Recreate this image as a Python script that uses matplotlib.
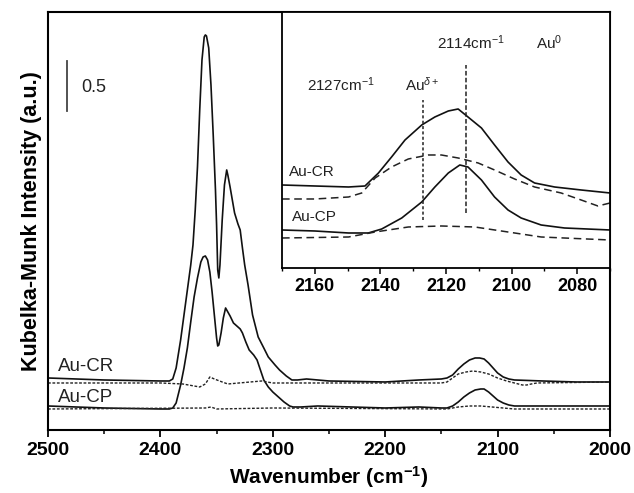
import matplotlib.pyplot as plt
from matplotlib.ticker import MultipleLocator

plt.rcParams['font.family'] = ['Liberation Sans', 'DejaVu Sans']
plt.rcParams['mathtext.fontset'] = 'custom'
plt.rcParams['mathtext.rm'] = 'Liberation Sans'
plt.rcParams['mathtext.it'] = 'Liberation Sans:italic'
plt.rcParams['mathtext.bf'] = 'Liberation Sans:bold'

# main spectra (wavenumber, Kubelka-Munk)
cr_x = [2500, 2450, 2400, 2392, 2389, 2386, 2382, 2379, 2376, 2373, 2371, 2369, 2367,
        2365, 2363, 2361, 2360, 2359, 2357, 2355, 2353, 2351, 2350, 2349, 2348, 2347,
        2345, 2343, 2341, 2340, 2338, 2336, 2334, 2331, 2329, 2327, 2325, 2322, 2318,
        2313, 2308, 2304, 2298, 2294, 2288, 2283, 2278, 2270, 2250, 2200, 2170, 2150,
        2145, 2140, 2135, 2130, 2125, 2120, 2116, 2112, 2108, 2104, 2100, 2095, 2090,
        2085, 2060, 2030, 2000]
cr_y = [0.52, 0.50, 0.49, 0.49, 0.51, 0.62, 0.90, 1.15, 1.40, 1.65, 1.85, 2.20, 2.63,
        3.20, 3.70, 3.93, 3.95, 3.94, 3.82, 3.45, 2.95, 2.40, 2.05, 1.60, 1.52, 1.65,
        2.10, 2.45, 2.60, 2.55, 2.43, 2.30, 2.17, 2.06, 2.00, 1.82, 1.65, 1.45, 1.15,
        0.93, 0.82, 0.73, 0.65, 0.60, 0.54, 0.50, 0.50, 0.51, 0.49, 0.48, 0.50, 0.51,
        0.52, 0.55, 0.61, 0.66, 0.70, 0.72, 0.72, 0.71, 0.67, 0.62, 0.57, 0.53, 0.51,
        0.50, 0.49, 0.48, 0.48]

cp_x = [2500, 2450, 2400, 2392, 2389, 2386, 2382, 2379, 2376, 2373, 2370, 2367, 2364,
        2362, 2360, 2358, 2356, 2354, 2352, 2350, 2349, 2348, 2346, 2344, 2342, 2340,
        2338, 2335, 2332, 2329, 2327, 2324, 2321, 2317, 2314, 2311, 2308, 2304, 2300,
        2295, 2290, 2285, 2282, 2275, 2260, 2200, 2170, 2150, 2145, 2140, 2135, 2130,
        2125, 2120, 2115, 2112, 2108, 2104, 2100, 2095, 2090, 2085, 2040, 2000]
cp_y = [0.24, 0.22, 0.21, 0.21, 0.22, 0.27, 0.45, 0.62, 0.82, 1.08, 1.33, 1.52, 1.68,
        1.73, 1.74, 1.70, 1.58, 1.38, 1.15, 0.92, 0.84, 0.85, 0.97, 1.12, 1.22, 1.18,
        1.14, 1.07, 1.04, 1.01, 0.97, 0.88, 0.80, 0.75, 0.70, 0.60, 0.50, 0.43, 0.38,
        0.33, 0.28, 0.24, 0.23, 0.23, 0.24, 0.22, 0.23, 0.22, 0.22, 0.24, 0.28, 0.33,
        0.37, 0.40, 0.41, 0.41, 0.38, 0.34, 0.30, 0.27, 0.25, 0.24, 0.24, 0.24]

cr_bg_x = [2500, 2400, 2380, 2370, 2365, 2360, 2356, 2352, 2345, 2340, 2330, 2320,
           2310, 2300, 2250, 2150, 2145, 2140, 2135, 2128, 2122, 2115, 2108, 2100,
           2092, 2085, 2078, 2074, 2070, 2065, 2000]
cr_bg_y = [0.47, 0.47, 0.46, 0.44, 0.43, 0.46, 0.53, 0.51, 0.48, 0.46, 0.47, 0.48,
           0.49, 0.47, 0.47, 0.47, 0.48, 0.52, 0.56, 0.58, 0.59, 0.58, 0.56, 0.52,
           0.49, 0.47, 0.45, 0.45, 0.46, 0.47, 0.48]

cp_bg_x = [2500, 2360, 2355, 2350, 2300, 2145, 2135, 2125, 2115, 2105, 2095, 2085, 2000]
cp_bg_y = [0.21, 0.22, 0.23, 0.21, 0.22, 0.21, 0.23, 0.24, 0.24, 0.23, 0.22, 0.21, 0.21]

# inset (zoom of CO region)
in_cr_x = [2170, 2160, 2149.7, 2144.7, 2140.6, 2136.6, 2132.5, 2127.4, 2123.4, 2119.3,
           2116.3, 2113.3, 2109.2, 2105.2, 2101.1, 2097.1, 2093, 2086.9, 2078.8, 2070]
in_cr_y = [0.83, 0.82, 0.81, 0.82, 0.95, 1.11, 1.28, 1.43, 1.51, 1.57,
           1.59, 1.51, 1.40, 1.23, 1.06, 0.93, 0.85, 0.81, 0.78, 0.75]
in_crb_x = [2170, 2160, 2149.7, 2145.7, 2141.6, 2136.6, 2131.5, 2125.4, 2121.4, 2116.3,
            2110.2, 2105.2, 2099.1, 2093, 2084.9, 2078.8, 2073.7, 2070]
in_crb_y = [0.69, 0.69, 0.71, 0.75, 0.90, 1.01, 1.09, 1.13, 1.13, 1.10,
            1.05, 0.98, 0.89, 0.81, 0.75, 0.68, 0.62, 0.65]
in_cp_x = [2170, 2160, 2149.7, 2143.7, 2139.6, 2133.5, 2127.4, 2123.4, 2119.3, 2115.8,
           2113.3, 2109.2, 2105.2, 2101.1, 2097.1, 2091, 2083.9, 2070]
in_cp_y = [0.38, 0.37, 0.35, 0.35, 0.39, 0.50, 0.66, 0.81, 0.95, 1.03,
           1.01, 0.88, 0.71, 0.58, 0.50, 0.43, 0.40, 0.38]
in_cpb_x = [2170, 2149.7, 2141.6, 2131.5, 2121.4, 2111.2, 2101.1, 2091, 2070]
in_cpb_y = [0.30, 0.31, 0.36, 0.41, 0.42, 0.41, 0.36, 0.31, 0.28]

fig = plt.figure(figsize=(6.34, 4.93), dpi=100)
ax = fig.add_axes([0.0757, 0.1278, 0.8864, 0.848])

ax.plot(cr_x, cr_y, color='#111111', lw=1.2)
ax.plot(cp_x, cp_y, color='#111111', lw=1.2)
ax.plot(cr_bg_x, cr_bg_y, color='#222222', ls=(0, (2, 1.2)), lw=1.0)
ax.plot(cp_bg_x, cp_bg_y, color='#222222', ls=(0, (2, 1.2)), lw=1.0)

ax.set_xlim(2500, 2000)
ax.set_ylim(0, 4.18)
ax.set_yticks([])
ax.xaxis.set_major_locator(MultipleLocator(100))
ax.xaxis.set_minor_locator(MultipleLocator(50))
ax.tick_params(axis='x', which='major', direction='out', length=5, width=1.3, labelsize=14)
ax.tick_params(axis='x', which='minor', direction='out', length=3, width=1.1)
for lab in ax.get_xticklabels():
    lab.set_fontweight('bold')
for s in ax.spines.values():
    s.set_linewidth(1.5)
ax.set_xlabel('Wavenumber (cm$^{\\mathbf{-1}}$)', fontsize=15, fontweight='bold')
ax.set_ylabel('Kubelka-Munk Intensity (a.u.)', fontsize=15.5, fontweight='bold')

ax.text(2491, 0.63, 'Au-CR', fontsize=13.5, va='center', color='#222222')
ax.text(2491, 0.32, 'Au-CP', fontsize=13.5, va='center', color='#222222')
ax.plot([2483, 2483], [3.19, 3.69], color='#444444', lw=1.3)
ax.text(2470, 3.42, '0.5', fontsize=13, va='center', color='#222222')

# inset
ins = fig.add_axes([0.4448, 0.4564, 0.5174, 0.5193])
ins.plot(in_cr_x, in_cr_y, color='#111111', lw=1.2)
ins.plot(in_cp_x, in_cp_y, color='#111111', lw=1.2)
ins.plot(in_crb_x, in_crb_y, color='#222222', ls=(0, (5, 3)), lw=1.1)
ins.plot(in_cpb_x, in_cpb_y, color='#222222', ls=(0, (5, 3)), lw=1.1)
ins.vlines(2127, 0.48, 1.68, colors='#222222', linestyles=(0, (2, 1.5)), lw=1.1)
ins.vlines(2114, 0.55, 2.03, colors='#222222', linestyles=(0, (3, 1.5)), lw=1.1)
ins.set_xlim(2170, 2070)
ins.set_ylim(0, 2.56)
ins.set_yticks([])
ins.xaxis.set_major_locator(MultipleLocator(20))
ins.xaxis.set_minor_locator(MultipleLocator(10))
ins.tick_params(axis='x', which='major', direction='out', length=4, width=1.1, labelsize=13)
ins.tick_params(axis='x', which='minor', direction='out', length=2.5, width=1.0)
for lab in ins.get_xticklabels():
    lab.set_fontweight('bold')
for s in ins.spines.values():
    s.set_linewidth(1.3)

ins.text(2162.4, 1.83, '2127cm$^{-1}$', fontsize=11, va='center', color='#222222')
ins.text(2132.6, 1.83, 'Au$^{\\delta+}$', fontsize=11, va='center', color='#222222')
ins.text(2122.6, 2.25, '2114cm$^{-1}$', fontsize=11, va='center', color='#222222')
ins.text(2092.5, 2.25, 'Au$^{0}$', fontsize=11, va='center', color='#222222')
ins.text(2168, 0.96, 'Au-CR', fontsize=11, va='center', color='#222222')
ins.text(2167, 0.51, 'Au-CP', fontsize=11, va='center', color='#222222')

fig.savefig('out.png', dpi=100)
